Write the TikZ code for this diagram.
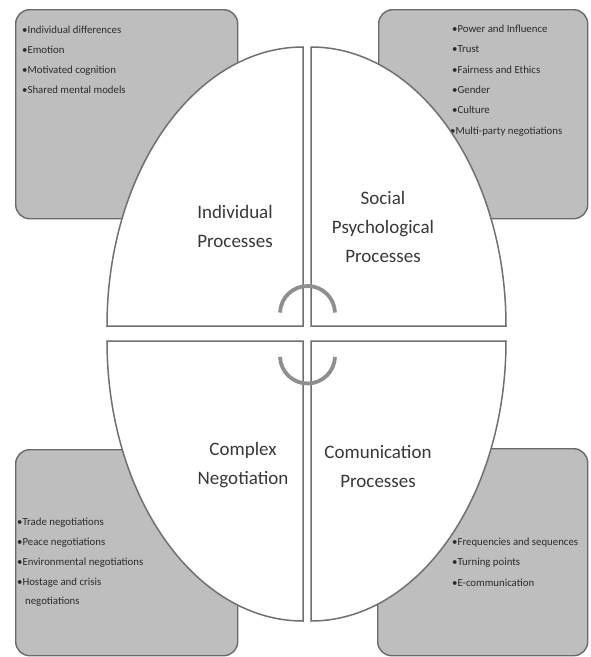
\documentclass[tikz,border=0pt]{standalone}
\usepackage{fontspec}
\setmainfont{Carlito}
\definecolor{boxfill}{HTML}{BEBEBE}
\definecolor{boxline}{HTML}{6A6A6A}
\definecolor{quadline}{HTML}{707070}
\definecolor{arcgray}{HTML}{8E8E8E}
\definecolor{txtdark}{HTML}{2A2A2A}
\definecolor{lbldark}{HTML}{383838}
\tikzset{
  graybox/.style={draw=boxline, fill=boxfill, line width=1.4pt, rounded corners=14pt, anchor=north west, inner sep=0pt},
  quad/.style={draw=quadline, fill=white, line width=1.5pt, line join=miter},
  item/.style={anchor=base west, inner sep=0pt, text=txtdark, font=\fontsize{10.8}{12}\selectfont},
  biglabel/.style={align=center, inner sep=0pt, text=lbldark, font=\fontsize{19}{29}\selectfont},
  linkarc/.style={draw=arcgray, line width=3.8pt}
}
\begin{document}
\begin{tikzpicture}[x=1pt,y=1pt]
\useasboundingbox (0,0) rectangle (590,-657);
% boxes
\node[graybox, minimum width=222pt, minimum height=209pt] (boxTL) at (15,-9) {};
\node[graybox, minimum width=209pt, minimum height=209pt] (boxTR) at (378,-9) {};
\node[graybox, minimum width=222pt, minimum height=206pt] (boxBL) at (15,-449) {};
\node[graybox, minimum width=210pt, minimum height=207pt] (boxBR) at (377,-448) {};
% box texts
\node[item] (tl1) at (22,-33) {•Individual differences};
\node[item] (tl2) at (22,-53) {•Emotion};
\node[item] (tl3) at (22,-73.5) {•Motivated cognition};
\node[item] (tl4) at (22,-93) {•Shared mental models};
\node[item] (tr1) at (452,-32.5) {•Power and Influence};
\node[item] (tr2) at (452,-52.5) {•Trust};
\node[item] (tr3) at (452,-73) {•Fairness and Ethics};
\node[item] (tr4) at (452,-93) {•Gender};
\node[item] (tr5) at (452,-113.5) {•Culture};
\node[item] (tr6) at (450,-134) {•Multi-party negotiations};
\node[item] (bl1) at (17,-525) {•Trade negotiations};
\node[item] (bl2) at (17,-545) {•Peace negotiations};
\node[item] (bl3) at (17,-565) {•Environmental negotiations};
\node[item] (bl4) at (17,-585) {•Hostage and crisis};
\node[item] (bl5) at (25,-604) {negotiations};
\node[item] (br1) at (452,-545) {•Frequencies and sequences};
\node[item] (br2) at (452,-565.5) {•Turning points};
\node[item] (br3) at (452,-586) {•E-communication};
% quadrants
\draw[quad] (303,-326) -- (107,-326) arc[start angle=180, end angle=90, x radius=196, y radius=279] -- cycle;
\draw[quad] (311,-326) -- (311,-47) arc[start angle=90, end angle=0, x radius=195, y radius=279] -- cycle;
\draw[quad] (303,-341) -- (107,-341) arc[start angle=180, end angle=270, x radius=196, y radius=280] -- cycle;
\draw[quad] (311,-341) -- (506,-341) arc[start angle=0, end angle=-90, x radius=195, y radius=280] -- cycle;
% labels
\node[biglabel] (lblTL) at (235,-226) {Individual\\Processes};
\node[biglabel] (lblTR) at (383,-227) {Social\\Psychological\\Processes};
\node[biglabel] (lblBL) at (243,-465) {Complex\\Negotiation};
\node[biglabel] (lblBR) at (378,-466) {Comunication\\Processes};
% central arcs
\coordinate (arcU) at (307.5,-313.5);
\coordinate (arcD) at (307.5,-356);
\draw[linkarc] ([shift={(arcU)}]178:27.5) arc[start angle=178, end angle=2, radius=27.5];
\draw[linkarc] ([shift={(arcD)}]182:27.5) arc[start angle=182, end angle=358, radius=27.5];
\end{tikzpicture}
\end{document}
